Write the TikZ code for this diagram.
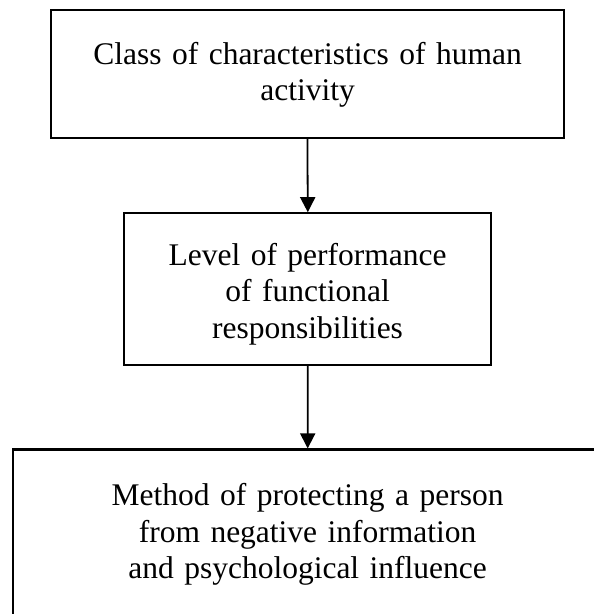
\documentclass[tikz,border=0pt]{standalone}
\usepackage{fontspec}
\setmainfont{Liberation Serif}
\usetikzlibrary{arrows.meta}
\begin{document}
\begin{tikzpicture}[x=1pt,y=-1pt,
  box/.style={draw=black, line width=2.2pt, rectangle, inner sep=0pt},
  caption/.style={align=center, text width=560pt, anchor=base, inner sep=0pt,
    font=\fontsize{31.5}{36.3}\selectfont},
  flow/.style={line width=1.8pt, -{Triangle[width=15pt,length=15pt]}}]
\useasboundingbox (0,0) rectangle (594,614);
\clip (0,0) rectangle (594,614);
\fill[white] (0,0) rectangle (594,614);

% boxes
\node[box, minimum width=512.5pt, minimum height=128pt] (b1) at (307.4,73.8) {};
\node[box, minimum width=367.1pt, minimum height=151.6pt] (b2) at (307.8,289.1) {};
\node[box, minimum width=590.2pt, minimum height=171pt] (b3) at (307.7,535) {};

% texts
\node[caption] (t1) at (307.6,64.6) {Class of characteristics of human\\activity};
\node[caption] (t2) at (307.6,265.5) {Level of performance\\of functional\\responsibilities};
\node[caption] (t3) at (307.6,505.9) {Method of protecting a person\\from negative information\\and psychological influence};

% connectors
\draw[flow] (b1.south) -- (b2.north);
\draw[flow] (b2.south) -- (b3.north);
\end{tikzpicture}
\end{document}
